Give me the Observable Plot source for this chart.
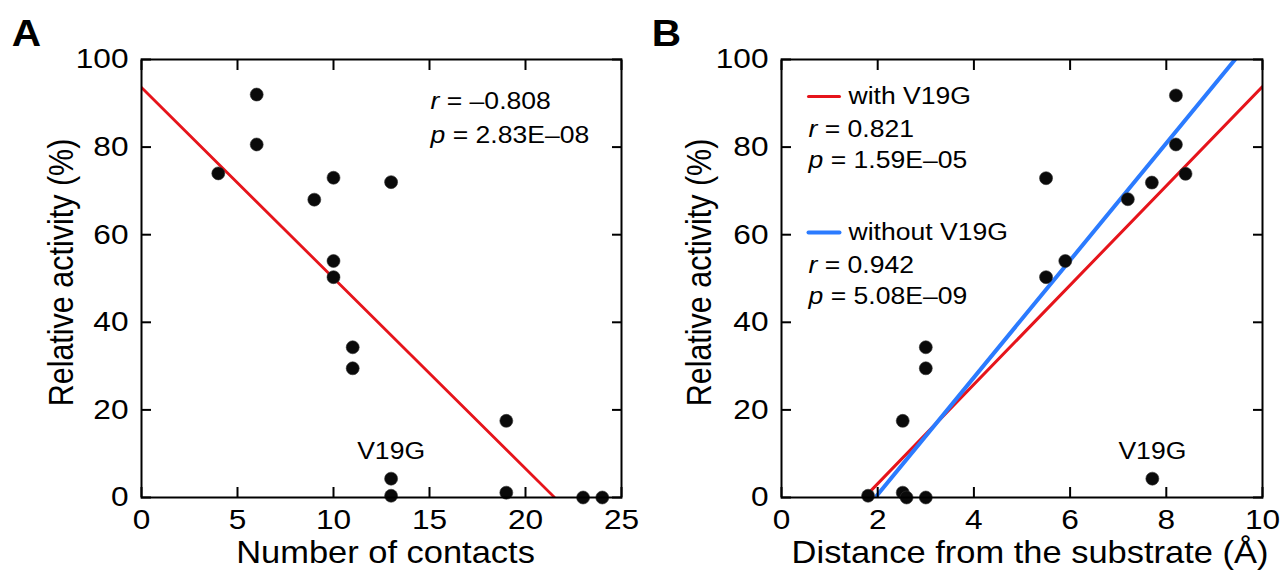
<!DOCTYPE html>
<html><head><meta charset="utf-8">
<script src="https://cdn.jsdelivr.net/npm/d3@7"></script>
<script src="https://cdn.jsdelivr.net/npm/@observablehq/plot@0.6"></script>
<style>
html,body{margin:0;padding:0;background:#fff;}
#wrap{display:flex;width:1282px;height:572px;overflow:hidden;}
#wrap svg{flex:none;}
</style></head><body><div id="wrap"></div>
<script>
// ---------- data ----------
// Panel A: number of contacts vs relative activity
const contactsA = [4, 6, 6, 9, 10, 10, 10, 13, 11, 11, 19, 13, 13, 19, 23, 24];
const activityA = [74, 92, 80.6, 68, 73, 54, 50.3, 72, 34.3, 29.5, 17.5, 4.3, 0.4, 1.1, 0, 0];
const mutantA   = [null, null, null, null, null, null, null, null, null, null, null, "V19G", null, null, null, null];
// Panel B: distance from substrate vs relative activity
const distanceB = [8.2, 8.2, 8.4, 7.7, 7.2, 5.5, 5.9, 5.5, 3.0, 3.0, 2.52, 7.71, 1.8, 2.52, 2.6, 3.0];
const activityB = [91.8, 80.6, 73.9, 71.9, 68.1, 72.9, 54, 50.3, 34.3, 29.5, 17.5, 4.3, 0.4, 1.1, 0, 0];
const mutantB   = [null, null, null, null, null, null, null, null, null, null, null, "V19G", null, null, null, null];
// fitted lines
const fitSlopeA = [-4.35];
const fitInterceptA = [93.6];
const fitRangeA = [[0, 21.5]];
const fitNamesB = ["with V19G", "without V19G"];
const fitSlopesB = [11.33, 13.37];
const fitInterceptsB = [-19.5, -26.07];
const fitRangesB = [[1.85, 10], [1.98, 9.43]];
// statistics text
const statsA = ["r = \u20130.808", "p = 2.83E\u201308"];
const statsB = [["r = 0.821", "p = 1.59E\u201305"], ["r = 0.942", "p = 5.08E\u201309"]];
// ticks
const yTicks = [0, 20, 40, 60, 80, 100];
const xTicksA = [0, 5, 10, 15, 20, 25];
const xTicksB = [0, 2, 4, 6, 8, 10];
const panelLabels = ["A", "B"];
const yTitle = "Relative activity (%)";
const xTitles = ["Number of contacts", "Distance from the substrate (\u00C5)"];

// ---------- helpers ----------
const RED = "#e6141b", BLUE = "#2b7bff";
const FONT = "Arial, 'Liberation Sans', Helvetica, sans-serif";
const lineShape = {draw(ctx, l) { ctx.moveTo(0, 0); ctx.lineTo(0, -l); }};

function fitPoints(m, b, [x0, x1], name) {
  return [x0, x1].map(x => ({x, y: b + m * x, name}));
}

function axes(xTicks) {
  const common = {tickSize: -10, strokeWidth: 2, label: null};
  return [
    Plot.axisY({...common, ticks: yTicks, anchor: "left", tickPadding: 23, fontSize: 28}),
    Plot.axisY({...common, ticks: yTicks, anchor: "right", tickFormat: () => ""}),
    Plot.axisX({...common, ticks: xTicks, anchor: "bottom", tickPadding: 22, fontSize: 28}),
    Plot.axisX({...common, ticks: xTicks, anchor: "top", tickFormat: () => ""}),
    Plot.frame({stroke: "black", strokeWidth: 2})
  ];
}

function titles(i, xdx, ydx) {
  return [
    Plot.text([panelLabels[i]], {frameAnchor: "top-left", dx: -115, dy: -25, fontSize: 36, fontWeight: "bold", textAnchor: "middle", lineAnchor: "middle"}),
    Plot.text([yTitle], {frameAnchor: "left", dx: ydx, dy: -6, rotate: -90, fontSize: 30.5, textAnchor: "middle", lineAnchor: "middle"}),
    Plot.text([xTitles[i]], {frameAnchor: "bottom", dx: xdx, dy: 56, fontSize: 30.5, textAnchor: "middle", lineAnchor: "middle"})
  ];
}

function postProcess(svg) {
  const ns = "http://www.w3.org/2000/svg";
  svg.querySelectorAll("text").forEach(t => {
    const m = /^([rp])( = .*)$/.exec(t.textContent);
    if (m && t.children.length === 0) {
      t.textContent = "";
      const ts = document.createElementNS(ns, "tspan");
      ts.setAttribute("font-style", "italic");
      ts.textContent = m[1];
      t.append(ts, document.createTextNode(m[2]));
    }
    let tr = t.getAttribute("transform");
    if (!tr) {
      const x = t.getAttribute("x") || 0, y = t.getAttribute("y") || 0;
      tr = `translate(${x},${y})`;
      t.removeAttribute("x"); t.removeAttribute("y");
    }
    const s = 1.13;
    t.setAttribute("transform", tr + (/rotate/.test(tr) ? ` scale(1,${s})` : ` scale(${s},1)`));
  });
  return svg;
}

const style = {fontFamily: FONT, fontSize: "28px", color: "black", background: "white", overflow: "visible"};

// ---------- panel A ----------
const ptsA = contactsA.map((x, i) => ({x, y: activityA[i], label: mutantA[i]}));
const lineA = fitPoints(fitSlopeA[0], fitInterceptA[0], fitRangeA[0], "all");
const plotA = Plot.plot({
  width: 641, height: 572,
  marginLeft: 141, marginRight: 20, marginTop: 59, marginBottom: 75,
  style,
  x: {domain: [0, 25]},
  y: {domain: [0, 100]},
  marks: [
    Plot.line(lineA, {x: "x", y: "y", stroke: RED, strokeWidth: 2.8, clip: true}),
    Plot.dot(ptsA, {x: "x", y: "y", r: 6.5, fill: "#0a0a0a", stroke: "#333", strokeWidth: 0.6}),
    Plot.text(ptsA, {filter: d => d.label, x: "x", y: "y", text: "label", dy: -27, fontSize: 23.5, lineAnchor: "middle"}),
    Plot.text([statsA[0]], {frameAnchor: "top-left", dx: 289, dy: 42, fontSize: 23.5, textAnchor: "start", lineAnchor: "middle"}),
    Plot.text([statsA[1]], {frameAnchor: "top-left", dx: 289, dy: 76, fontSize: 23.5, textAnchor: "start", lineAnchor: "middle"}),
    ...axes(xTicksA),
    ...titles(0, 4, -80)
  ]
});

// ---------- panel B ----------
const ptsB = distanceB.map((x, i) => ({x, y: activityB[i], label: mutantB[i]}));
const linesB = fitNamesB.map((n, i) => fitPoints(fitSlopesB[i], fitInterceptsB[i], fitRangesB[i], n));
const colorsB = [RED, BLUE];
const widthsB = [3, 4];
const legendDy = [37, 173];
const plotB = Plot.plot({
  width: 641, height: 572,
  marginLeft: 140, marginRight: 20, marginTop: 59, marginBottom: 75,
  style,
  x: {domain: [0, 10]},
  y: {domain: [0, 100]},
  marks: [
    ...linesB.map((pts, i) => Plot.line(pts, {x: "x", y: "y", stroke: colorsB[i], strokeWidth: widthsB[i], clip: true})),
    Plot.dot(ptsB, {x: "x", y: "y", r: 6.5, fill: "#0a0a0a", stroke: "#333", strokeWidth: 0.6}),
    Plot.text(ptsB, {filter: d => d.label, x: "x", y: "y", text: "label", dy: -27, fontSize: 23.5, lineAnchor: "middle"}),
    ...fitNamesB.flatMap((n, i) => [
      Plot.vector([n], {frameAnchor: "top-left", dx: 27, dy: legendDy[i], length: 31, rotate: 90, anchor: "start", stroke: colorsB[i], strokeWidth: widthsB[i], shape: lineShape}),
      Plot.text([n], {frameAnchor: "top-left", dx: 67, dy: legendDy[i], fontSize: 23.5, textAnchor: "start", lineAnchor: "middle"}),
      Plot.text([statsB[i][0]], {frameAnchor: "top-left", dx: 27, dy: legendDy[i] + 33, fontSize: 23.5, textAnchor: "start", lineAnchor: "middle"}),
      Plot.text([statsB[i][1]], {frameAnchor: "top-left", dx: 27, dy: legendDy[i] + 64, fontSize: 23.5, textAnchor: "start", lineAnchor: "middle"})
    ]),
    ...axes(xTicksB),
    ...titles(1, 8, -82)
  ]
});

const wrap = document.getElementById("wrap");
wrap.append(postProcess(plotA), postProcess(plotB));
</script>
</body></html>
